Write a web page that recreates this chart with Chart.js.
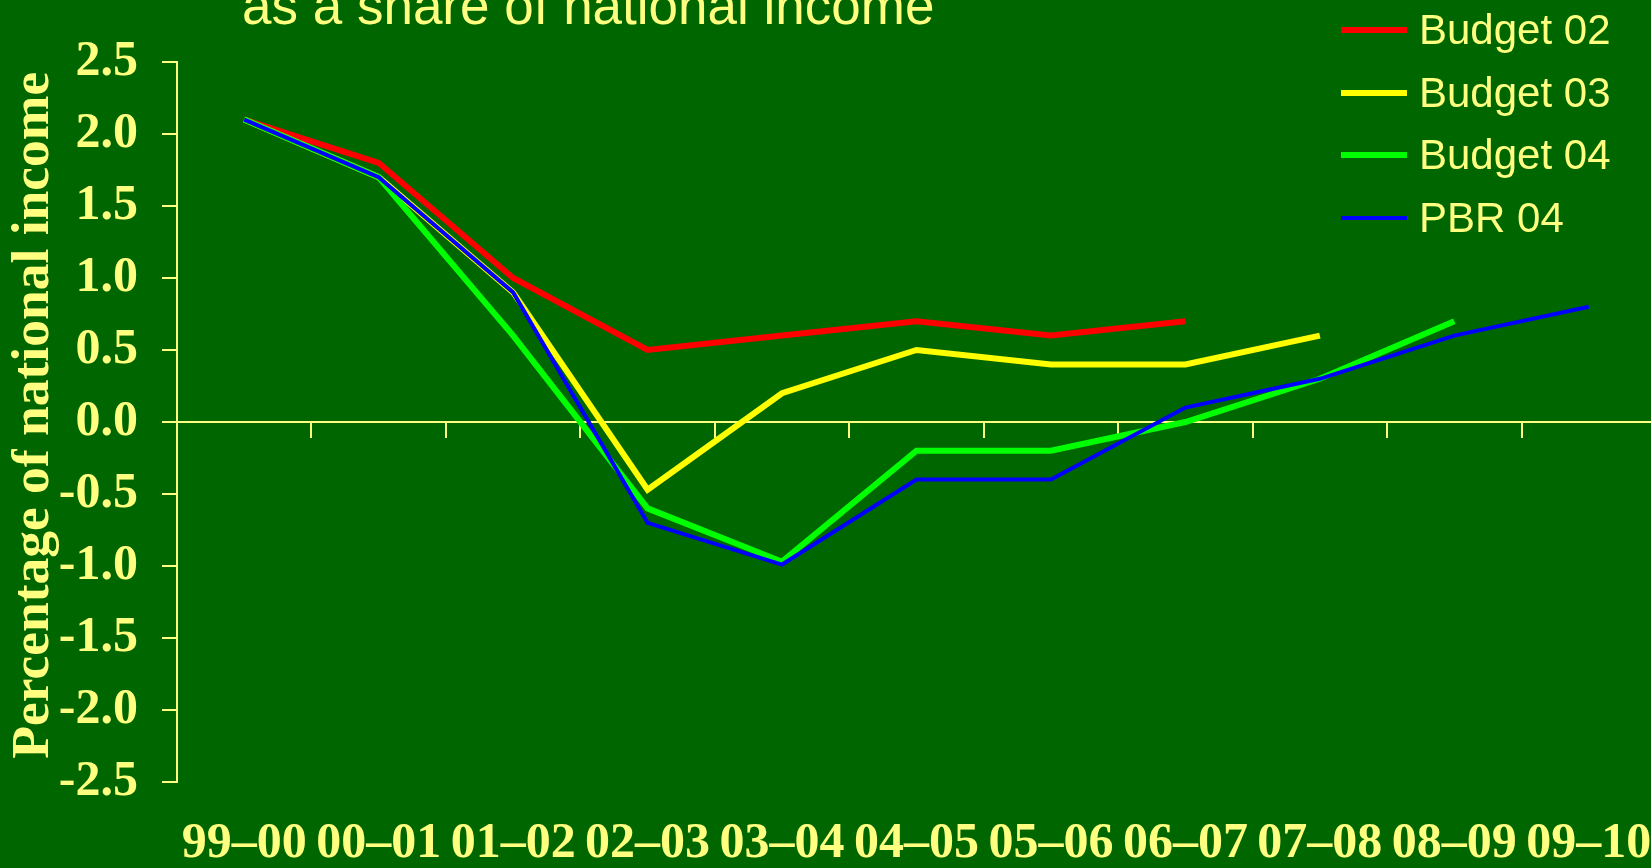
<!DOCTYPE html>
<html>
<head>
<meta charset="utf-8">
<script src="https://cdn.jsdelivr.net/npm/chart.js@4.4.1/dist/chart.umd.min.js"></script>
<style>
  html, body { margin: 0; padding: 0; overflow: hidden; background: #006600; }
  body { position: relative; width: 1651px; height: 868px; }
  #chart { position: absolute; left: 0; top: 0; }
  .heading {
    position: absolute; left: 242px; top: -21px;
    font: 53px/53px "Liberation Sans", Arial, sans-serif;
    color: #ffff80; white-space: nowrap;
  }
  #legend { position: absolute; left: 1341px; top: -1.5px; }
  .legend-row { display: flex; align-items: center; height: 62.7px; }
  .legend-line { width: 66px; margin-right: 12px; }
  .legend-text {
    font: 42px "Liberation Sans", Arial, sans-serif;
    color: #ffff80; white-space: nowrap;
  }
</style>
</head>
<body>
<div class="heading">as a share of national income</div>
<canvas id="chart" width="1656" height="868"></canvas>
<div id="legend"></div>
<script>
const years = ['99–00', '00–01', '01–02', '02–03', '03–04', '04–05', '05–06', '06–07', '07–08', '08–09', '09–10'];
const budget02 = [2.1, 1.8, 1.0, 0.5, 0.6, 0.7, 0.6, 0.7, null, null, null];
const budget03 = [2.1, 1.7, 0.9, -0.47, 0.2, 0.5, 0.4, 0.4, 0.6, null, null];
const budget04 = [2.1, 1.7, 0.6, -0.6, -0.97, -0.2, -0.2, 0.0, 0.3, 0.7, null];
const pbr04 = [2.1, 1.7, 0.9, -0.7, -0.99, -0.4, -0.4, 0.1, 0.3, 0.6, 0.8];

const yMin = -2.5;
const yMax = 2.5;
const yStep = 0.5;

const ink = '#ffff80';
const serifBold = { family: '"Liberation Serif", "Times New Roman", serif', weight: 'bold' };

const line = (label, data, color, width, order) => ({
  label, data, order,
  borderColor: color,
  backgroundColor: color,
  borderWidth: width,
  pointRadius: 0,
  tension: 0,
  fill: false,
});

const chart = new Chart(document.getElementById('chart'), {
  type: 'line',
  data: {
    labels: years,
    datasets: [
      line('Budget 02', budget02, '#ff0000', 6, 3),
      line('Budget 03', budget03, '#ffff00', 6, 2),
      line('Budget 04', budget04, '#00ff00', 6, 1),
      line('PBR 04', pbr04, '#0000ff', 4, 0),
    ],
  },
  options: {
    responsive: false,
    animation: false,
    devicePixelRatio: 1,
    layout: { padding: { top: 62, left: 0, right: 0, bottom: 0 } },
    plugins: {
      legend: { display: false },
      tooltip: { enabled: false },
    },
    scales: {
      x: {
        type: 'category',
        offset: true,
        border: { display: false },
        grid: { display: false, drawTicks: false },
        ticks: {
          color: ink,
          autoSkip: false,
          maxRotation: 0,
          padding: 32,
          font: { ...serifBold, size: 50, lineHeight: 1.2 },
        },
        afterFit: (scale) => {
          scale.height = 86;
          scale.paddingLeft = 0;
          scale.paddingRight = 0;
        },
      },
      x2: {
        type: 'category',
        axis: 'x',
        labels: years,
        offset: true,
        position: { y: 0 },
        border: { display: true, color: ink, width: 2 },
        grid: { offset: true, drawOnChartArea: false, drawTicks: true, tickLength: 15, color: ink, lineWidth: 2 },
        ticks: { display: false },
      },
      y: {
        min: yMin,
        max: yMax,
        border: { display: true, color: ink, width: 2 },
        grid: { drawOnChartArea: false, drawTicks: true, tickLength: 15, color: ink, lineWidth: 2 },
        ticks: {
          stepSize: yStep,
          color: ink,
          padding: 24,
          font: { ...serifBold, size: 50 },
          callback: (v) => Number(v).toFixed(1),
        },
        title: {
          display: true,
          text: ' Percentage of national income',
          color: ink,
          padding: { top: 3, bottom: 0 },
          font: { ...serifBold, size: 53.5, lineHeight: 1.17 },
        },
        afterFit: (scale) => { scale.width = 177; },
      },
    },
  },
});

// legend built from the chart's own datasets, in dataset order
const legendEl = document.getElementById('legend');
chart.data.datasets.forEach((ds) => {
  const row = document.createElement('div');
  row.className = 'legend-row';
  const swatch = document.createElement('div');
  swatch.className = 'legend-line';
  swatch.style.height = ds.borderWidth + 'px';
  swatch.style.background = ds.borderColor;
  const text = document.createElement('span');
  text.className = 'legend-text';
  text.textContent = ds.label;
  row.appendChild(swatch);
  row.appendChild(text);
  legendEl.appendChild(row);
});
</script>
</body>
</html>
